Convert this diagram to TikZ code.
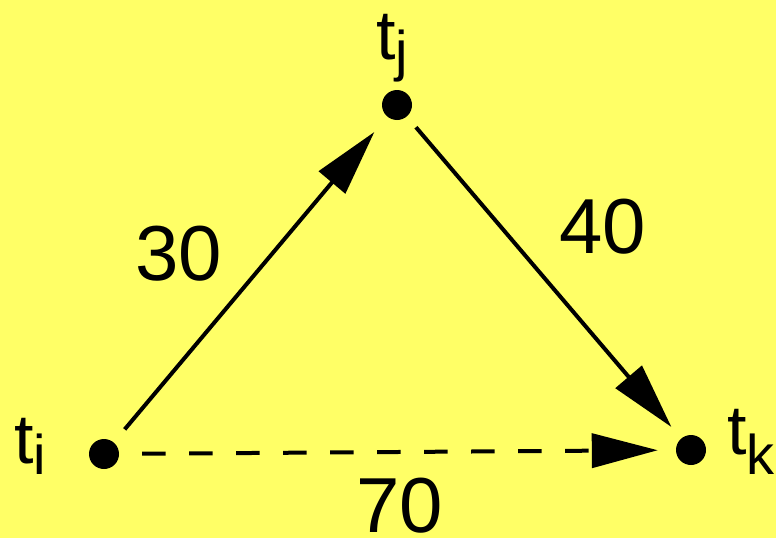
\documentclass[tikz,border=0pt]{standalone}
\usepackage{fontspec}
\setmainfont{Liberation Sans}
\usetikzlibrary{arrows.meta, positioning}
\definecolor{bgyellow}{HTML}{FFFF66}
\newcommand{\tname}[2]{t\raisebox{-#2}{\fontsize{56}{60}\selectfont #1}}
\tikzset{
  vertex/.style = {circle, fill=black, minimum size=30pt, inner sep=0pt},
  tlbl/.style   = {font=\fontsize{70}{80}\selectfont, inner sep=0pt, anchor=base west},
  wlbl/.style   = {font=\fontsize{78}{90}\selectfont, inner sep=0pt},
  flow/.style   = {-{Triangle[length=66pt, width=34pt]}, line width=4pt},
}

\begin{document}
\begin{tikzpicture}[x=1pt, y=-1pt]
  \fill[bgyellow] (0,0) rectangle (776,538);
  \useasboundingbox (0,0) rectangle (776,538);
  % time points
  \node[vertex] (ti) at (104,454) {};
  \node[vertex] (tj) at (397,105) {};
  \node[vertex] (tk) at (691,450) {};
  \node[tlbl] (lti) at (14,463) {\tname{i}{11pt}};
  \node[tlbl] (ltj) at (376,59) {\tname{j}{11pt}};
  \node[tlbl] (ltk) at (727,454) {\tname{k}{20pt}};

  \draw[flow, shorten <=17pt, shorten >=20pt] (ti) -- (tj);
  \draw[flow, shorten <=14pt, shorten >=15pt] (tj) -- (tk);
  \draw[flow, dash pattern=on 23.5pt off 23.5pt, shorten <=23pt, shorten >=18pt] (ti) -- (tk);

  % weights
  \node[wlbl] (wij) at (179,253.5) {30};
  \node[wlbl] (wjk) at (602.5,226.5) {40};
  \node[wlbl] (wik) at (400,505.5) {70};
\end{tikzpicture}
\end{document}
